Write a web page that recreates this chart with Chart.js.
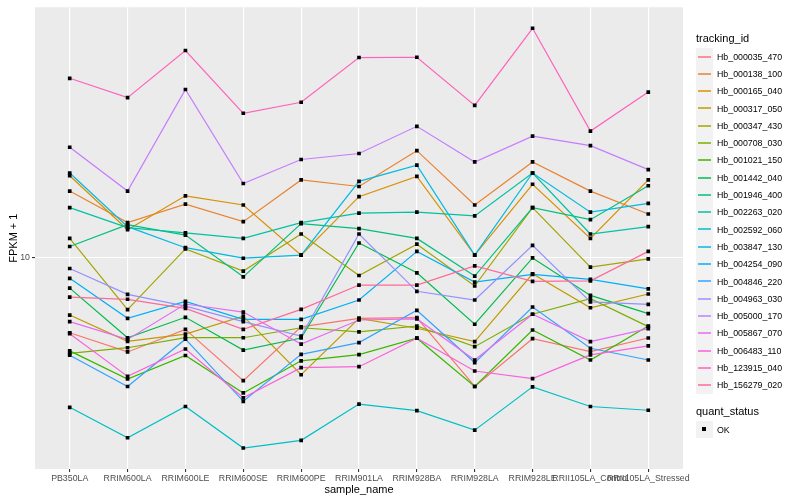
<!DOCTYPE html>
<html>
<head>
<meta charset="utf-8">
<script src="https://cdn.jsdelivr.net/npm/chart.js@4.4.1/dist/chart.umd.min.js"></script>
<style>
  body { margin: 0; background: #fff; }
  #wrap { position: relative; width: 800px; height: 500px; font-family: "Liberation Sans", Arial, sans-serif; }
  #legend { position: absolute; left: 696px; top: 28px; }
  .ltitle { font-size: 11px; color: #000; height: 20px; line-height: 20px; }
  .item { display: flex; align-items: center; height: 17.3px; }
  .key { width: 17px; height: 17.3px; background: #f2f2f2; position: relative; }
  .key span { position: absolute; left: 2px; right: 2px; top: 7.5px; height: 2px; opacity: 0.75; }
  .key b { position: absolute; left: 6px; top: 6.5px; width: 4px; height: 4px; background: #000; }
  .lab { font-size: 8.8px; margin-left: 4px; color: #000; }
</style>
</head>
<body>
<div id="wrap">
  <canvas id="chart" width="800" height="500"></canvas>
  <div id="legend"></div>
</div>
<script>
// sample order on the x axis
const samples = ["PB350LA", "RRIM600LA", "RRIM600LE", "RRIM600SE", "RRIM600PE", "RRIM901LA",
                 "RRIM928BA", "RRIM928LA", "RRIM928LE", "RRII105LA_Control", "RRII105LA_Stressed"];

const trackingIds = ["Hb_000035_470", "Hb_000138_100", "Hb_000165_040", "Hb_000317_050", "Hb_000347_430",
                     "Hb_000708_030", "Hb_001021_150", "Hb_001442_040", "Hb_001946_400", "Hb_002263_020",
                     "Hb_002592_060", "Hb_003847_130", "Hb_004254_090", "Hb_004846_220", "Hb_004963_030",
                     "Hb_005000_170", "Hb_005867_070", "Hb_006483_110", "Hb_123915_040", "Hb_156279_020"];

const quantStatus = ["OK"];
const yTicks = [10];

// FPKM + 1, one array per gene, in sample order
const hb000035_470 = [5.61, 4.84, 5.76, 3.88, 5.87, 6.27, 6.30, 3.71, 5.36, 4.85, 5.39];
const hb000138_100 = [16.7, 13.1, 15.1, 13.2, 18.2, 17.3, 22.8, 15.0, 20.9, 16.7, 14.0];
const hb000165_040 = [18.8, 12.4, 16.1, 15.0, 10.2, 16.0, 18.7, 10.2, 17.6, 11.6, 18.2];
const hb000317_050 = [6.43, 5.25, 5.55, 6.38, 4.06, 6.27, 5.81, 5.24, 8.83, 6.80, 7.56];
const hb000347_430 = [11.6, 6.70, 10.7, 9.02, 12.0, 8.72, 11.1, 8.04, 14.7, 9.30, 9.91];
const hb000708_030 = [4.79, 5.00, 5.40, 5.40, 5.83, 5.65, 5.91, 5.04, 6.47, 7.29, 5.88];
const hb001021_150 = [4.88, 3.93, 4.71, 3.53, 4.52, 4.74, 5.38, 3.71, 5.73, 4.55, 5.91];
const hb001442_040 = [7.91, 5.40, 6.32, 4.91, 5.39, 11.2, 8.90, 5.99, 9.98, 7.48, 6.50];
const hb001946_400 = [10.9, 12.9, 11.9, 8.63, 13.0, 12.5, 11.6, 8.68, 14.7, 13.4, 17.4];
const hb002263_020 = [14.7, 12.6, 12.1, 11.6, 13.1, 14.1, 14.2, 13.8, 19.2, 12.0, 12.7];
const hb002592_060 = [3.16, 2.50, 3.18, 2.31, 2.45, 3.24, 3.08, 2.65, 3.70, 3.18, 3.09];
const hb003847_130 = [19.2, 12.7, 10.8, 9.96, 10.2, 18.0, 20.4, 10.2, 19.2, 14.2, 15.2];
const hb004254_090 = [8.53, 6.27, 7.14, 6.22, 6.22, 7.22, 10.5, 8.29, 8.79, 8.46, 7.87];
const hb004846_220 = [4.72, 3.71, 5.34, 3.31, 4.75, 5.20, 6.67, 4.46, 6.84, 4.98, 4.55];
const hb004963_030 = [9.20, 7.54, 6.89, 6.11, 5.47, 12.0, 7.72, 7.22, 11.0, 7.12, 6.98];
const hb005000_170 = [23.4, 16.7, 36.5, 17.7, 21.3, 22.3, 27.5, 20.9, 25.5, 23.7, 19.7];
const hb005867_070 = [6.11, 5.33, 7.00, 6.58, 5.14, 6.19, 6.24, 4.55, 6.47, 5.24, 5.79];
const hb006483_110 = [5.57, 4.01, 4.95, 3.40, 4.29, 4.32, 5.38, 4.18, 3.94, 4.73, 5.07];
const hb123915_040 = [39.8, 34.3, 49.3, 30.4, 33.1, 46.7, 46.8, 32.3, 58.5, 26.5, 35.8];
const hb156279_020 = [7.38, 7.26, 6.77, 5.76, 6.72, 8.10, 8.10, 9.39, 8.33, 8.37, 10.5];

const series = [hb000035_470, hb000138_100, hb000165_040, hb000317_050, hb000347_430,
                hb000708_030, hb001021_150, hb001442_040, hb001946_400, hb002263_020,
                hb002592_060, hb003847_130, hb004254_090, hb004846_220, hb004963_030,
                hb005000_170, hb005867_070, hb006483_110, hb123915_040, hb156279_020];

////////////////////////////////
// ggplot-style hue palette (hcl, l = 65, c = 100)
////////////////////////////////
function hcl(h, c, l) {
  const hr = h * Math.PI / 180;
  const U = c * Math.cos(hr), V = c * Math.sin(hr);
  const Y = 100 * (l > 8 ? Math.pow((l + 16) / 116, 3) : l / 903.3);
  const u = U / (13 * l) + 0.1978398;
  const v = V / (13 * l) + 0.4683363;
  const X = 9.0 * Y * u / (4 * v);
  const Z = -X / 3 - 5 * Y + 3 * Y / v;
  const x = X / 100, y = Y / 100, z = Z / 100;
  const lin = [
    3.240479 * x - 1.537150 * y - 0.498535 * z,
    -0.969256 * x + 1.875992 * y + 0.041556 * z,
    0.055648 * x - 0.204043 * y + 1.057311 * z
  ];
  const out = lin.map(t => {
    let g = t <= 0.0031308 ? 12.92 * t : 1.055 * Math.pow(t, 1 / 2.4) - 0.055;
    g = Math.min(1, Math.max(0, g));
    return Math.round(g * 255);
  });
  return "rgb(" + out.join(",") + ")";
}

const n = trackingIds.length;
const colors = trackingIds.map((_, i) => hcl(15 + (360 / n) * i, 100, 65));

// y range like ggplot: log10 data range with 5% expansion
const allVals = series.flat();
const lo = Math.log10(Math.min(...allVals));
const hi = Math.log10(Math.max(...allVals));
const pad = (hi - lo) * 0.05;
const yMin = Math.pow(10, lo - pad);
const yMax = Math.pow(10, hi + pad);

////////////////////////////////
// Datasets: lines first, points on top
////////////////////////////////
const lineSets = trackingIds.map((id, i) => ({
  label: id,
  data: series[i].map((v, j) => ({ x: j, y: v })),
  borderColor: colors[i],
  borderWidth: 1.2,
  pointRadius: 0,
  fill: false,
  tension: 0,
  order: 100 - i
}));

const pointSets = trackingIds.map((id, i) => ({
  label: id + " " + quantStatus[0],
  data: series[i].map((v, j) => ({ x: j, y: v })),
  showLine: false,
  pointStyle: "rect",
  pointRadius: 2.6,
  pointBackgroundColor: "#000",
  pointBorderWidth: 0,
  order: 0
}));

const panelBg = {
  id: "panelBg",
  beforeDraw(chart) {
    const a = chart.chartArea;
    const ctx = chart.ctx;
    ctx.save();
    ctx.fillStyle = "#ebebeb";
    ctx.fillRect(a.left, a.top, a.right - a.left, a.bottom - a.top);
    ctx.restore();
  }
};

new Chart(document.getElementById("chart"), {
  type: "line",
  data: { datasets: lineSets.concat(pointSets) },
  options: {
    responsive: false,
    animation: false,
    layout: { padding: { top: 5, right: 117, left: 0, bottom: 0 } },
    plugins: { legend: { display: false }, tooltip: { enabled: false } },
    scales: {
      x: {
        type: "linear",
        min: -0.6,
        max: samples.length - 1 + 0.6,
        afterBuildTicks: s => { s.ticks = samples.map((_, i) => ({ value: i })); },
        afterFit: s => { s.height = 31; },
        border: { display: false },
        grid: { color: "#ffffff", lineWidth: 1.1, tickLength: 3, tickColor: "#333333" },
        ticks: {
          callback: v => samples[v],
          autoSkip: false, maxRotation: 0, minRotation: 0,
          color: "#4d4d4d", padding: 1,
          font: { family: "Liberation Sans", size: 8.8 }
        },
        title: {
          display: true, text: "sample_name", color: "#000",
          font: { family: "Liberation Sans", size: 11 },
          padding: { top: 0, bottom: 3 }
        }
      },
      y: {
        type: "logarithmic",
        min: yMin,
        max: yMax,
        afterBuildTicks: s => { s.ticks = yTicks.map(v => ({ value: v })); },
        afterFit: s => { s.width = 35; },
        border: { display: false },
        grid: { color: "#ffffff", lineWidth: 1.1, tickLength: 3, tickColor: "#333333" },
        ticks: {
          callback: v => String(v),
          color: "#4d4d4d", padding: 2,
          font: { family: "Liberation Sans", size: 8.8 }
        },
        title: {
          display: true, text: "FPKM + 1", color: "#000",
          font: { family: "Liberation Sans", size: 11 },
          padding: { top: 7, bottom: 0 }
        }
      }
    }
  },
  plugins: [panelBg]
});

////////////////////////////////
// Legend (ggplot-like, two guides)
////////////////////////////////
const legend = document.getElementById("legend");
let html = '<div class="ltitle">tracking_id</div>';
trackingIds.forEach((id, i) => {
  html += '<div class="item"><div class="key"><span style="background:' + colors[i] +
          '"></span></div><div class="lab">' + id + '</div></div>';
});
html += '<div class="ltitle" style="margin-top:7px">quant_status</div>';
quantStatus.forEach(q => {
  html += '<div class="item"><div class="key"><b></b></div><div class="lab">' + q + '</div></div>';
});
legend.innerHTML = html;
</script>
</body>
</html>
